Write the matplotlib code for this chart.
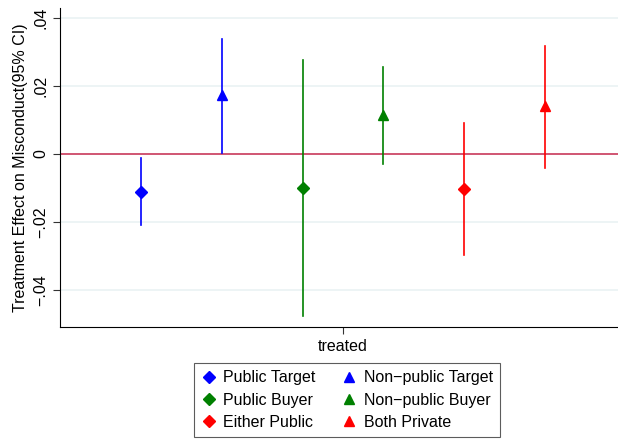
import numpy as np
import matplotlib.pyplot as plt
from matplotlib.lines import Line2D

plt.rcParams['font.family'] = ['Liberation Sans', 'DejaVu Sans']

labels = ['Public Target', 'Non\u2212public Target', 'Public Buyer',
          'Non\u2212public Buyer', 'Either Public', 'Both Private']
coefs = [-0.0111, 0.0174, -0.0101, 0.0115, -0.0104, 0.0141]
ci_low = [-0.0209, 0.0002, -0.0478, -0.0030, -0.0299, -0.0040]
ci_high = [-0.0013, 0.0340, 0.0276, 0.0255, 0.0092, 0.0318]
colors = ['#0000FF', '#0000FF', '#008000', '#008000', '#FF0000', '#FF0000']
markers = ['D', '^', 'D', '^', 'D', '^']
yticks = [-0.04, -0.02, 0, 0.02, 0.04]
yticklabels = ['\u2212.04', '\u2212.02', '0', '.02', '.04']

fig = plt.figure(figsize=(6.18, 4.4), dpi=100)
ax = fig.add_axes([60/618, 113/440, 1 - 60/618, (327 - 8)/440])

xpos = np.arange(len(coefs)) - 2.5
for i in range(len(coefs)):
    ax.plot([xpos[i], xpos[i]], [ci_low[i], ci_high[i]], color=colors[i], lw=1.2, zorder=3)
    ax.plot(xpos[i], coefs[i], marker=markers[i], color=colors[i],
            markersize=6.5 if markers[i] == 'D' else 7.5, linestyle='none', zorder=4)

ax.axhline(0, color='#C8385A', lw=1.2, zorder=2)
for t in yticks:
    if t != 0:
        ax.axhline(t, color='#EAF2F3', lw=1.2, zorder=1)

ax.set_ylim(-0.051, 0.043)
ax.set_xlim(-3.5, 3.4)
ax.set_yticks(yticks)
ax.set_yticklabels(yticklabels, rotation=90, va='center', fontsize=11.5)
ax.set_xticks([0])
ax.set_xticklabels(['treated'], fontsize=11.5)
ax.tick_params(axis='both', length=5, width=0.8, color='#333333')
ax.set_ylabel('Treatment Effect on Misconduct(95% CI)', fontsize=11.5, labelpad=4)
ax.spines['top'].set_visible(False)
ax.spines['right'].set_visible(False)

# legend fills column-first: diamonds left, triangles right
order = [0, 2, 4, 1, 3, 5]
handles = [Line2D([], [], marker=markers[i], color=colors[i], linestyle='none',
                  markersize=6 if markers[i] == 'D' else 6.5) for i in order]
leg = fig.legend(handles, [labels[i] for i in order], ncol=2, loc='center',
                 bbox_to_anchor=(347/618, 1 - 400/440),
                 fontsize=11.5, frameon=True, fancybox=False, edgecolor='#333333',
                 handletextpad=0.4, columnspacing=1.6, labelspacing=0.45,
                 borderpad=0.45, handlelength=1.0)
leg.get_frame().set_linewidth(0.8)

fig.savefig('out.png', dpi=100)
